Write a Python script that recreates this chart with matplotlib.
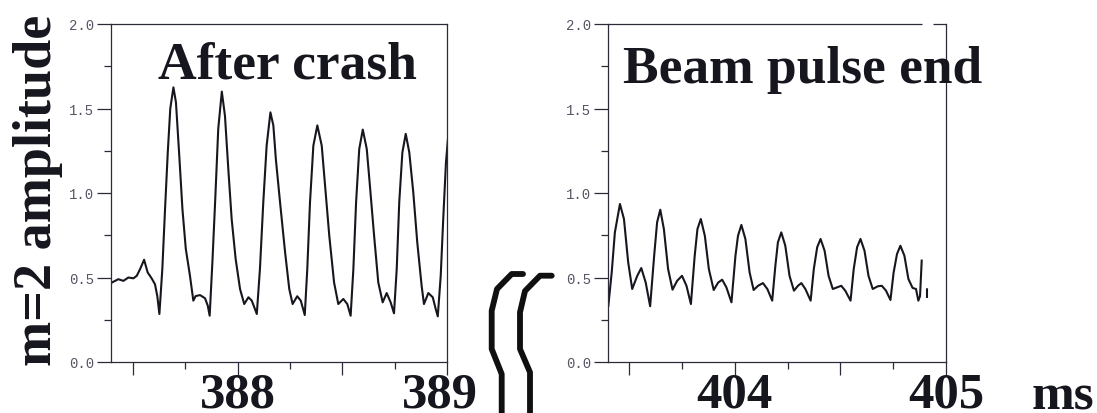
import matplotlib
matplotlib.use("Agg")
import numpy as np
import matplotlib.pyplot as plt
from matplotlib.ticker import MultipleLocator, FormatStrFormatter
from matplotlib.lines import Line2D
from matplotlib.transforms import ScaledTranslation

# ---- m=2 amplitude after the sawtooth crash (time in ms) ----
t_crash = [
    387.400, 387.431, 387.455, 387.479, 387.503, 387.519, 387.535, 387.554, 387.571, 387.590, 387.606, 387.617, 387.627,
    387.641, 387.654, 387.667, 387.679, 387.694, 387.706, 387.721, 387.737, 387.753, 387.773, 387.789, 387.800, 387.821, 387.845, 387.858, 387.867,
    387.880, 387.893, 387.908, 387.925, 387.940, 387.956, 387.972, 387.991, 388.012, 388.032, 388.052, 388.068, 388.080, 388.092,
    388.107, 388.123, 388.139, 388.157, 388.171, 388.183, 388.203, 388.227, 388.247, 388.263, 388.285, 388.302, 388.321,
    388.333, 388.346, 388.362, 388.381, 388.402, 388.418, 388.438, 388.461, 388.481, 388.505, 388.524, 388.540,
    388.553, 388.566, 388.581, 388.598, 388.617, 388.632, 388.652, 388.672, 388.693, 388.712, 388.731, 388.747,
    388.760, 388.772, 388.787, 388.803, 388.820, 388.839, 388.858, 388.879, 388.890, 388.911, 388.932, 388.946, 388.956,
    388.970, 388.982, 388.995, 389.010,
]
amp_crash = [
    0.47, 0.49, 0.48, 0.50, 0.495, 0.51, 0.55, 0.605, 0.53, 0.495, 0.46, 0.39, 0.284,
    0.55, 0.905, 1.24, 1.50, 1.625, 1.537, 1.24, 0.905, 0.67, 0.51, 0.363, 0.39, 0.396, 0.377, 0.333, 0.274,
    0.59, 0.945, 1.38, 1.60, 1.457, 1.142, 0.846, 0.61, 0.432, 0.343, 0.383, 0.363, 0.324, 0.284,
    0.55, 0.945, 1.28, 1.477, 1.40, 1.20, 0.945, 0.65, 0.432, 0.343, 0.389, 0.363, 0.278,
    0.55, 0.945, 1.28, 1.40, 1.28, 1.043, 0.747, 0.47, 0.343, 0.373, 0.343, 0.274,
    0.55, 0.945, 1.26, 1.375, 1.26, 1.043, 0.747, 0.47, 0.353, 0.408, 0.353, 0.288,
    0.55, 0.945, 1.24, 1.35, 1.24, 1.004, 0.708, 0.45, 0.343, 0.408, 0.383, 0.314, 0.27,
    0.51, 0.846, 1.18, 1.40,
]

# ---- m=2 amplitude at the end of the beam pulse (time in ms) ----
t_beam = [
    403.401, 403.417, 403.432, 403.456, 403.475, 403.495, 403.514, 403.538, 403.557, 403.578, 403.599,
    403.618, 403.632, 403.647, 403.664, 403.684, 403.705, 403.727, 403.750, 403.771, 403.792,
    403.810, 403.823, 403.839, 403.858, 403.877, 403.900, 403.921, 403.940, 403.960, 403.984,
    404.003, 404.015, 404.031, 404.050, 404.070, 404.089, 404.110, 404.133, 404.154, 404.177,
    404.192, 404.204, 404.220, 404.239, 404.259, 404.280, 404.299, 404.315, 404.334, 404.359,
    404.374, 404.390, 404.406, 404.425, 404.444, 404.464, 404.485, 404.504, 404.523, 404.548,
    404.563, 404.579, 404.595, 404.614, 404.633, 404.653, 404.677, 404.696, 404.716, 404.737,
    404.752, 404.768, 404.784, 404.803, 404.822, 404.842, 404.858, 404.869, 404.877, 404.885,
    np.nan, 404.910, 404.910,
]
amp_beam = [
    0.333, 0.53, 0.767, 0.935, 0.846, 0.59, 0.432, 0.51, 0.556, 0.47, 0.33,
    0.629, 0.827, 0.901, 0.787, 0.55, 0.428, 0.481, 0.51, 0.451, 0.343,
    0.629, 0.787, 0.846, 0.747, 0.55, 0.426, 0.47, 0.487, 0.442, 0.353,
    0.629, 0.747, 0.811, 0.728, 0.53, 0.426, 0.451, 0.467, 0.432, 0.363,
    0.57, 0.708, 0.767, 0.688, 0.51, 0.422, 0.451, 0.467, 0.432, 0.363,
    0.55, 0.679, 0.728, 0.659, 0.51, 0.432, 0.442, 0.451, 0.422, 0.363,
    0.55, 0.679, 0.728, 0.659, 0.51, 0.432, 0.448, 0.451, 0.422, 0.367,
    0.53, 0.639, 0.688, 0.629, 0.491, 0.438, 0.432, 0.363, 0.39, 0.60,
    np.nan, 0.43, 0.385,
]

crash_ticks = [387.5, 388.0, 388.5, 389.0]
crash_labels = ["", "388", "", "389"]
beam_ticks = [403.5, 404.0, 404.5, 405.0]
beam_labels = ["", "404", "", "405"]

W, H = 1097, 414
fig = plt.figure(figsize=(W / 100, H / 100), dpi=100)
fig.patch.set_facecolor("white")

serif = ["Liberation Serif", "DejaVu Serif"]
ink = "#16161e"
axis_col = "#2a2a38"
label_col = "#555565"


def axes_px(left, top, right, bottom):
    return fig.add_axes([left / W, 1 - bottom / H, (right - left) / W, (bottom - top) / H])


def style(ax, xlim, ticks, labels):
    ax.set_xlim(*xlim)
    ax.set_ylim(0, 2)
    ax.set_xticks(ticks, labels, fontweight="bold", fontfamily=serif,
                  fontsize=36.5, color=ink)
    ax.xaxis.set_minor_locator(MultipleLocator(0.25))
    ax.yaxis.set_major_locator(MultipleLocator(0.5))
    ax.yaxis.set_minor_locator(MultipleLocator(0.25))
    ax.yaxis.set_major_formatter(FormatStrFormatter("%.1f"))
    ax.tick_params(which="both", direction="out", color=axis_col, width=0.9,
                   top=False, right=False)
    ax.tick_params(axis="y", which="major", length=10, pad=2, labelsize=10,
                   labelcolor=label_col, labelfontfamily="Liberation Mono")
    ax.tick_params(axis="y", which="minor", length=5)
    ax.tick_params(axis="x", which="major", length=9.5, pad=-3)
    ax.tick_params(axis="x", which="minor", length=5)
    for s in ax.spines.values():
        s.set_color(axis_col)
        s.set_linewidth(0.9)


ax1 = axes_px(111, 25, 447, 363)
ax2 = axes_px(607.7, 25, 946, 363)

style(ax1, (387.396, 389.0), crash_ticks, crash_labels)
style(ax2, (403.398, 405.0), beam_ticks, beam_labels)

# the right-hand "389" sits a little left of its tick, clear of the break marks
shift = ScaledTranslation(-7 / 100, 0, fig.dpi_scale_trans)
for lab in ax1.get_xticklabels():
    if lab.get_text() == "389":
        lab.set_transform(lab.get_transform() + shift)

ax1.plot(t_crash, amp_crash, color=ink, lw=1.5, solid_joinstyle="round")
ax2.plot(t_beam, amp_beam, color=ink, lw=1.5, solid_joinstyle="round")

# top frame of the right panel has a small break near the corner
ax2.spines["top"].set_visible(False)
for x0, x1 in [(0.0, 0.928), (0.962, 1.0)]:
    ax2.plot([x0, x1], [1, 1], transform=ax2.transAxes, color=axis_col,
             lw=0.9, clip_on=False, solid_capstyle="butt")

title_kw = dict(fontsize=38.5, fontweight="bold", family=serif, color=ink,
                va="baseline", ha="left")
ax1.text(0.140, 0.843, "After crash", transform=ax1.transAxes, **title_kw)
ax2.text(0.045, 0.828, "Beam pulse end", transform=ax2.transAxes, **title_kw)

fig.text(38 / W, 1 - 190 / H, "m=2 amplitude", rotation=90, ha="center",
         va="center", fontsize=39, fontweight="bold", family=serif, color=ink)
fig.text(1032 / W, 1 - 410 / H, "ms", ha="left", va="baseline", fontsize=37,
         fontweight="bold", family=serif, color=ink)

# time-axis break marks between the two panels
for pts in ([(523, 275), (511.7, 275), (497, 290), (491.7, 311.7), (491.7, 350), (501.7, 375), (501.7, 425)],
            [(551.7, 276.7), (540, 276.7), (525, 292), (520, 313.3), (520, 350), (530, 373.3), (530, 425)]):
    xs = [p[0] / W for p in pts]
    ys = [1 - p[1] / H for p in pts]
    fig.add_artist(Line2D(xs, ys, transform=fig.transFigure, color="#101010",
                          lw=4.2, solid_joinstyle="round", solid_capstyle="round"))

fig.savefig("out.png", dpi=100, facecolor="white")
